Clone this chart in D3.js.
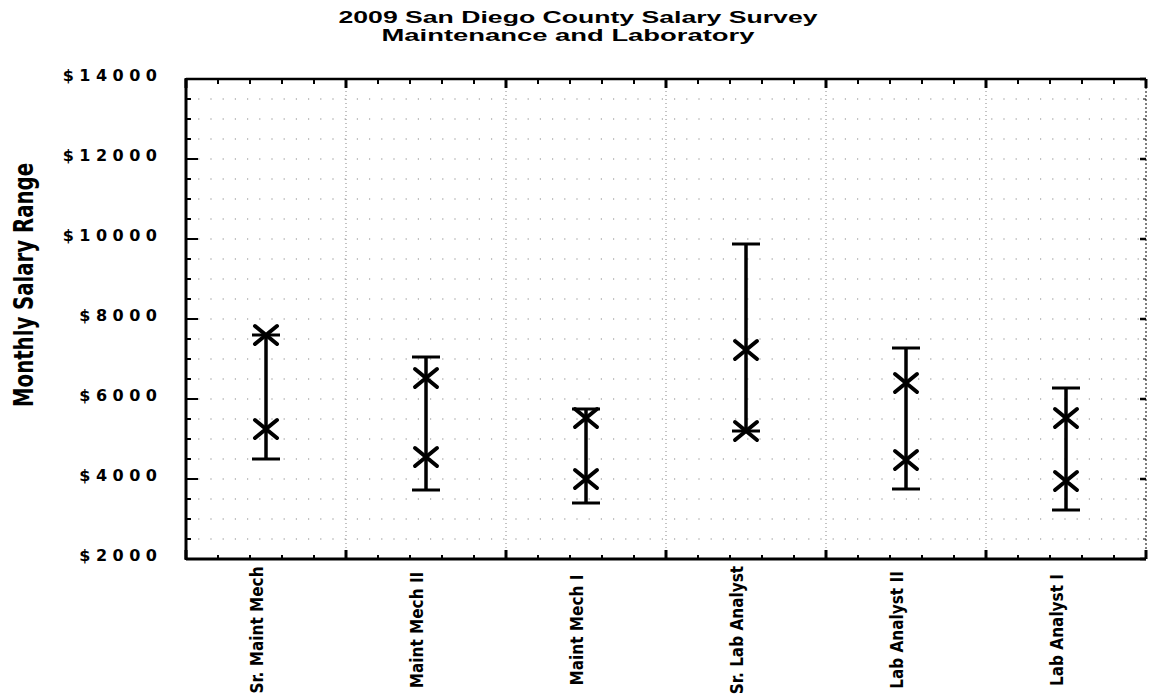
<!DOCTYPE html>
<html>
<head>
<meta charset="utf-8">
<script src="https://cdn.jsdelivr.net/npm/d3@7"></script>
<style>
  html, body { margin: 0; padding: 0; background: #fff; }
  svg { display: block; }
</style>
</head>
<body>
<svg id="chart" width="1151" height="694"></svg>
<script>
// ---- data ----
const titleLines = ["2009 San Diego County Salary Survey", "Maintenance and Laboratory"];
const yAxisTitle = "Monthly Salary Range";
const categories = ["Sr. Maint Mech", "Maint Mech II", "Maint Mech I", "Sr. Lab Analyst", "Lab Analyst II", "Lab Analyst I"];
const rangeMin  = [4500, 3725, 3400, 5200, 3750, 3225];
const rangeMax  = [7600, 7050, 5750, 9875, 7275, 6275];
const markLow   = [5250, 4550, 4000, 5200, 4475, 3950];
const markHigh  = [7600, 6525, 5525, 7225, 6400, 5525];
const yTicks    = [2000, 4000, 6000, 8000, 10000, 12000, 14000];
const yDomain   = [2000, 14000];

(function () {
// ---- layout ----
const svg = d3.select("#chart");
const pL = 186, pT = 79, pW = 960, pH = 480;
const x = d3.scaleBand().domain(categories).range([pL, pL + pW]).padding(0);
const y = d3.scaleLinear().domain(yDomain).range([pT + pH, pT]);

const rows = categories.map((c, i) => ({ c, min: rangeMin[i], max: rangeMax[i], lo: markLow[i], hi: markHigh[i] }));

// ---- grid ----
const grid = svg.append("g");
const minorY = d3.range(yDomain[0] + 500, yDomain[1], 500);
grid.selectAll("line.hg").data(minorY).join("line")
  .attr("x1", pL).attr("x2", pL + pW)
  .attr("y1", d => y(d)).attr("y2", d => y(d))
  .attr("stroke", "#888").attr("stroke-width", 1).attr("stroke-dasharray", "1.2,11");
const bounds = categories.slice(1).map(c => x(c));
grid.selectAll("line.vg").data(bounds).join("line")
  .attr("x1", d => d).attr("x2", d => d)
  .attr("y1", pT).attr("y2", pT + pH)
  .attr("stroke", "#888").attr("stroke-width", 1).attr("stroke-dasharray", "1,3");

// ---- frame ----
const frame = svg.append("g").attr("stroke", "#000").attr("fill", "none");
frame.append("line").attr("x1", pL).attr("x2", pL).attr("y1", pT - 1).attr("y2", pT + pH + 1).attr("stroke-width", 3);
frame.append("line").attr("x1", pL).attr("x2", pL + pW).attr("y1", pT + pH).attr("y2", pT + pH).attr("stroke-width", 3);
frame.append("line").attr("x1", pL).attr("x2", pL + pW).attr("y1", pT).attr("y2", pT).attr("stroke-width", 2.5);
frame.append("line").attr("x1", pL + pW).attr("x2", pL + pW).attr("y1", pT).attr("y2", pT + pH)
  .attr("stroke-width", 1).attr("stroke-dasharray", "2,2");

// left axis ticks (inward)
const allY = d3.range(yDomain[0], yDomain[1] + 1, 500);
svg.append("g").selectAll("line").data(allY).join("line")
  .attr("x1", pL).attr("x2", d => pL + (d % 2000 === 0 ? 12 : 5))
  .attr("y1", d => y(d)).attr("y2", d => y(d))
  .attr("stroke", "#000").attr("stroke-width", 2);
// right axis ticks
svg.append("g").selectAll("line").data(allY).join("line")
  .attr("x1", pL + pW).attr("x2", d => pL + pW - (d % 2000 === 0 ? 6 : 3))
  .attr("y1", d => y(d)).attr("y2", d => y(d))
  .attr("stroke", "#000").attr("stroke-width", d => d % 2000 === 0 ? 2.5 : 1);

// x ticks: 5 subdivisions per band
const xt = d3.range(0, categories.length * 5 + 1).map(k => ({ pos: pL + k * x.bandwidth() / 5, major: k % 5 === 0 }));
svg.append("g").selectAll("line").data(xt).join("line")
  .attr("x1", d => d.pos).attr("x2", d => d.pos)
  .attr("y1", pT + pH).attr("y2", d => pT + pH - (d.major ? 9 : 4))
  .attr("stroke", "#000").attr("stroke-width", d => d.major ? 3 : 2);
svg.append("g").selectAll("line").data(xt).join("line")
  .attr("x1", d => d.pos).attr("x2", d => d.pos)
  .attr("y1", pT).attr("y2", d => pT + (d.major ? 9 : 5))
  .attr("stroke", "#000").attr("stroke-width", d => d.major ? 3 : 2);

// y tick labels
svg.append("g").selectAll("text").data(yTicks).join("text")
  .attr("x", 162.5).attr("y", d => y(d) - 4)
  .attr("dy", "0.35em")
  .attr("text-anchor", "end")
  .attr("font-family", "DejaVu Sans, sans-serif")
  .attr("font-weight", "bold")
  .attr("font-size", 16)
  .attr("letter-spacing", 5.5)
  .text(d => "$" + d);

// y axis title
svg.append("text")
  .attr("transform", `translate(33,285) rotate(-90)`)
  .attr("text-anchor", "middle")
  .attr("font-family", "'Liberation Sans Narrow', 'DejaVu Sans Condensed', 'Arial Narrow', sans-serif")
  .attr("font-weight", "bold")
  .attr("font-size", 26)
  .attr("textLength", 244).attr("lengthAdjust", "spacingAndGlyphs")
  .text(yAxisTitle);

// title
const titleW = [479, 373];
const titleX = [578, 568];
svg.append("g").selectAll("text").data(titleLines).join("text")
  .attr("x", (d, i) => titleX[i]).attr("y", (d, i) => 23 + i * 18)
  .attr("text-anchor", "middle")
  .attr("font-family", "'Liberation Sans', Arial, sans-serif")
  .attr("font-weight", "bold")
  .attr("font-size", 16)
  .attr("textLength", (d, i) => titleW[i]).attr("lengthAdjust", "spacingAndGlyphs")
  .text(d => d);

// x labels
svg.append("g").selectAll("text").data(categories).join("text")
  .attr("transform", d => `translate(${x(d) + x.bandwidth() / 2 - 3},630) rotate(-90)`)
  .attr("text-anchor", "middle")
  .attr("font-family", "'Liberation Sans Narrow', 'DejaVu Sans Condensed', 'Arial Narrow', sans-serif")
  .attr("font-weight", "bold")
  .attr("font-size", 17)
  .text(d => d);

// ---- range bars ----
const cx = d => x(d.c) + x.bandwidth() / 2;
const bars = svg.append("g").attr("stroke", "#000").attr("fill", "none");
bars.selectAll("line.v").data(rows).join("line")
  .attr("x1", cx).attr("x2", cx)
  .attr("y1", d => y(d.min)).attr("y2", d => y(d.max))
  .attr("stroke-width", 3.5);
const capW = 14;
bars.selectAll("line.cmax").data(rows).join("line")
  .attr("x1", d => cx(d) - capW).attr("x2", d => cx(d) + capW)
  .attr("y1", d => y(d.max)).attr("y2", d => y(d.max))
  .attr("stroke-width", 3);
bars.selectAll("line.cmin").data(rows).join("line")
  .attr("x1", d => cx(d) - capW).attr("x2", d => cx(d) + capW)
  .attr("y1", d => y(d.min)).attr("y2", d => y(d.min))
  .attr("stroke-width", 3);

// ---- X markers ----
const marks = [];
rows.forEach(d => { marks.push({ c: d.c, v: d.lo }); marks.push({ c: d.c, v: d.hi }); });
const mx = 11, my = 9;
bars.selectAll("path.m").data(marks).join("path")
  .attr("d", d => {
    const px = cx(d), py = y(d.v);
    return `M${px - mx},${py - my}L${px + mx},${py + my}M${px - mx},${py + my}L${px + mx},${py - my}`;
  })
  .attr("stroke-width", 4)
  .attr("stroke-linecap", "round");
})();
</script>
</body>
</html>
